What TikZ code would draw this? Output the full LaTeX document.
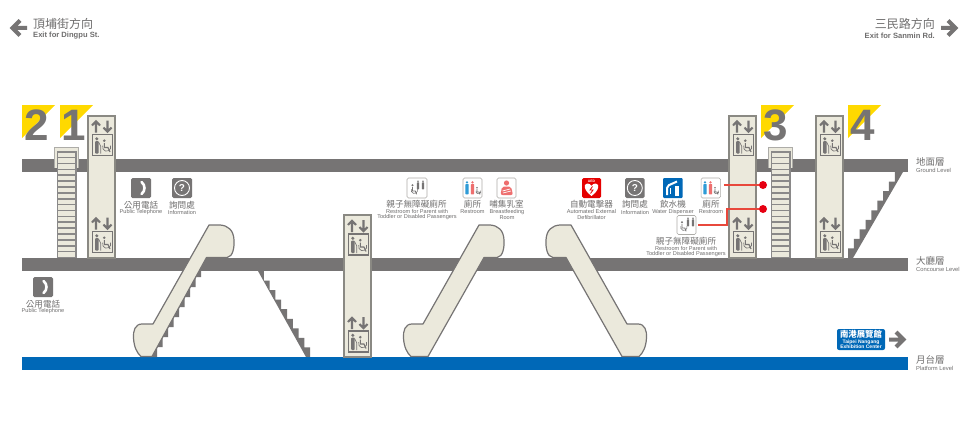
\documentclass[tikz,border=0pt]{standalone}
\usepackage{fontspec}
\setmainfont{Liberation Sans}
\newfontfamily\cjk{Noto Sans CJK TC}
\definecolor{bargray}{HTML}{767474}
\definecolor{cream}{HTML}{EBE9DC}
\definecolor{mrtblue}{HTML}{0068B7}
\definecolor{signyellow}{HTML}{FFD900}
\definecolor{textgray}{HTML}{6F6E6E}
\definecolor{edgegray}{HTML}{8A8983}
\definecolor{linered}{HTML}{E8483C}
\definecolor{dotred}{HTML}{E60012}
\definecolor{manblue}{HTML}{2E9BD6}
\definecolor{womanred}{HTML}{EE6F6F}
\definecolor{waterblue}{HTML}{0068B7}
\tikzset{
  x=1pt,y=-1pt,
  zh/.style={font=\cjk\fontsize{8.6}{9}\selectfont,text=textgray,inner sep=0pt},
  zhbig/.style={font=\cjk\fontsize{12}{13}\selectfont,text=textgray,inner sep=0pt},
  zhlevel/.style={font=\cjk\fontsize{9.5}{10}\selectfont,text=textgray,inner sep=0pt,anchor=west},
  en/.style={font=\fontsize{5.6}{5.4}\selectfont,text=textgray,inner sep=0pt,align=center},
  enbig/.style={font=\bfseries\fontsize{7.6}{8}\selectfont,text=textgray,inner sep=0pt},
  enlevel/.style={font=\fontsize{5.8}{6}\selectfont,text=textgray,inner sep=0pt,anchor=west},
  bar/.style={fill=bargray,draw=none},
  lift/.style={fill=cream,draw=edgegray,line width=1.3pt},
  digit/.style={font=\bfseries\fontsize{44}{44}\selectfont,text=bargray,inner sep=0pt},
  darkicon/.style={fill=bargray,draw=none,rounded corners=1.5pt},
  whiteicon/.style={fill=white,draw=edgegray!70,line width=.6pt,rounded corners=1.5pt},
  redlink/.style={draw=linered,line width=1.2pt},
  reddot/.style={circle,fill=dotred,minimum size=8pt,inner sep=0pt},
  chevron/.style={draw=bargray,line width=4pt,miter limit=10},
  escal/.style={fill=cream,draw=bargray,line width=1.2pt,line join=round},
  qmark/.style={circle,draw=white,line width=.9pt,minimum size=15pt,inner sep=0pt,text=white,font=\bfseries\fontsize{10}{10}\selectfont},
  % lift sign: origin = left edge of shaft, top of arrows
  liftsign/.pic={
    \draw[draw=bargray,line width=2.1pt] (8,12)--(8,1) (4,5)--(8,.8)--(12,5);
    \draw[draw=bargray,line width=2.1pt] (19.5,0)--(19.5,11) (15.5,7)--(19.5,11.2)--(23.5,7);
    \draw[draw=bargray,line width=1.6pt,fill=cream] (4.5,14) rectangle (24.5,35);
    \fill[bargray] (8.8,18.3) circle (1.7);
    \fill[bargray,rounded corners=.8pt] (7.2,20.5) rectangle (10.6,33);
    \draw[bargray,line width=.7pt] (10.5,21.5)--(12.8,26)--(12.8,33);
    \fill[bargray] (16.3,20.2) circle (1.4);
    \draw[bargray,line width=1.1pt] (16.3,22.5)--(16.3,27)--(20,27)--(22,31.5);
    \draw[bargray,line width=.7pt] (14.8,25.2) arc[start angle=200,end angle=-20,radius=4.1];
  },
  wcfig/.pic={
    \fill[#1] (0,-6) circle (1.2);
    \draw[#1,line width=.9pt] (0,-4)--(0,0)--(3,0)--(4.3,3.4);
    \draw[#1,line width=.6pt] (-1.2,-2) arc[start angle=200,end angle=-20,radius=3.4];
  },
  manfig/.pic={
    \fill[#1] (0,-7) circle (1.6);
    \fill[#1,rounded corners=.6pt] (-2,-5) rectangle (2,8);
  },
}
\begin{document}
\begin{tikzpicture}
\useasboundingbox (0,0) rectangle (965,420);
\fill[white] (0,0) rectangle (965,420);

% level bars
\fill[bar] (22,158.5) rectangle (908,172);
\fill[bar] (22,258) rectangle (908,271);
\fill[mrtblue] (22,357) rectangle (908,370);

% gates
\foreach \gx/\gd in {22/2,60/1,761/3,848/4}{
  \fill[signyellow] (\gx,105)--(\gx+33,105)--(\gx,138)--cycle;
}
\node[digit] (gate2) at (36.5,125) {2};
\node[digit] (gate1) at (73.5,125) {1};
\node[digit] (gate3) at (775.5,125) {3};
\node[digit] (gate4) at (862.5,125) {4};

% stairs (ladder)
\foreach \sx in {54,768}{
  \fill[cream,draw=edgegray!70,line width=.8pt] (\sx,168)--(\sx,147)--(\sx+24.5,147)--(\sx+24.5,168);
  \fill[bargray!85] (\sx+2.5,151) rectangle (\sx+22.5,258);
  \foreach \i in {0,...,17}{
    \fill[cream] (\sx+4,152.5+\i*5.88) rectangle (\sx+21,152.5+\i*5.88+4.3);
  }
}

% lift shafts
\foreach \lx/\ly/\ley in {88/116/258,344/215/357,729/116/258,816/116/258}{
  \draw[lift] (\lx,\ly) rectangle (\lx+27,\ley);
}
\foreach \lx in {88,729,816}{
  \pic at (\lx,120.5) {liftsign};
  \pic at (\lx,217.5) {liftsign};
}
\pic at (344,220) {liftsign};
\pic at (344,317) {liftsign};

% left escalator with teeth
\fill[bargray] (150,357)--(157,357) \foreach \i in {1,...,10}{ -- ++(0,-10) -- ++(5.5,0)} -- (200,257) -- cycle;
\draw[escal] (152,356.5)--(206.5,257.5)--(227,257.5) .. controls (233,257) and (234.5,247) .. (234,240) .. controls (233.5,230) and (228,225.5) .. (220,225)--(209,225)--(153,324)--(142,324) .. controls (135,324) and (133,331) .. (133.5,338) .. controls (134,347) and (137,353) .. (141,356.5) -- cycle;

% middle escalator
\draw[escal] (428,356.5)--(484,257.5)--(497,257.5) .. controls (503,257) and (504.5,247) .. (504,240) .. controls (503.5,230) and (498,225.5) .. (490,225)--(479,225)--(423,324)--(412,324) .. controls (405,324) and (403,331) .. (403.5,338) .. controls (404,347) and (407,353) .. (411,356.5) -- cycle;

% right escalator
\draw[escal] (622,356.5)--(566,257.5)--(553,257.5) .. controls (547,257) and (545.5,247) .. (546,240) .. controls (546.5,230) and (552,225.5) .. (560,225)--(571,225)--(627,324)--(638,324) .. controls (645,324) and (647,331) .. (646.5,338) .. controls (646,347) and (643,353) .. (639,356.5) -- cycle;

% fixed stairs
\fill[bargray] (258,271) \foreach \i in {1,...,9}{ -- ++(5.8,0) -- ++(0,9.55)} -- (306,357) -- cycle;
\fill[bargray] (848,258) \foreach \i in {1,...,9}{ -- ++(0,-9.55) -- ++(5.85,0)} -- (903,172) -- (853,258) -- cycle;

% exits
\draw[chevron] (27,28)--(13,28) (20,20.5)--(12.5,28)--(20,35.5);
\node[zhbig,anchor=west] (exitLzh) at (33,24) {頂埔街方向};
\node[enbig,anchor=west] (exitLen) at (33,35.5) {Exit for Dingpu St.};
\draw[chevron] (941,28)--(955,28) (948,20.5)--(955.5,28)--(948,35.5);
\node[zhbig,anchor=east] (exitRzh) at (935,24) {三民路方向};
\node[enbig,anchor=east] (exitRen) at (935,35.5) {Exit for Sanmin Rd.};

% telephone 1
\fill[darkicon] (131,178) rectangle (151,198);
\draw[white,line width=2.6pt,line cap=round] (141.5,182) .. controls (145.5,185) and (145.5,191) .. (141.5,194);
\node[zh] (tel1zh) at (141,205) {公用電話};
\node[en] (tel1en) at (141,212) {Public Telephone};
% information 1
\fill[darkicon] (172,178) rectangle (192,198);
\node[qmark] (info1) at (182,188) {?};
\node[zh] (info1zh) at (182,205) {詢問處};
\node[en] (info1en) at (182,212) {Information};
% telephone 2
\fill[darkicon] (33,277) rectangle (53,297);
\draw[white,line width=2.6pt,line cap=round] (43.5,281) .. controls (47.5,284) and (47.5,290) .. (43.5,293);
\node[zh] (tel2zh) at (43,304) {公用電話};
\node[en] (tel2en) at (43,311) {Public Telephone};

% parent restroom 1
\draw[whiteicon] (407,178) rectangle (427,198);
\pic[scale=.95] at (412.5,191) {wcfig=bargray};
\pic[scale=.55] at (418,185) {manfig=bargray};
\pic[scale=.55] at (423,185) {manfig=bargray};
\node[zh] (par1zh) at (416.5,204.5) {親子無障礙廁所};
\node[en] (par1en) at (417,214.5) {Restroom for Parent with\\[-.2pt]Toddler or Disabled Passengers};
% restroom 1
\draw[whiteicon] (463,178) rectangle (482,198);
\pic[scale=.8] at (467,188) {manfig=manblue};
\pic[scale=.8] at (472.5,188) {manfig=womanred};
\pic[scale=.7] at (477,192) {wcfig=bargray};
\node[zh] (rest1zh) at (472.5,204.5) {廁所};
\node[en] (rest1en) at (472.5,212) {Restroom};
% breastfeeding
\draw[whiteicon] (497,178) rectangle (516,198);
\fill[womanred] (506.5,183) circle (2.6);
\fill[womanred,rounded corners=2pt] (500.5,195) -- (502,186.5) -- (511,186.5) -- (513,195) -- cycle;
\draw[white,line width=.7pt] (502.5,191)--(510,189) (503,193)--(511,191);
\node[zh] (babyzh) at (506.5,204.5) {哺集乳室};
\node[en] (babyen) at (507,214.5) {Breastfeeding\\[-.2pt]Room};

% AED
\fill[red!90!black,rounded corners=1.5pt] (582,178) rectangle (601,198);
\fill[white] (591.5,196) .. controls (586,192) and (584,188) .. (585,185) .. controls (586,183) and (590,183) .. (591.5,186) .. controls (593,183) and (597,183) .. (598,185) .. controls (599,188) and (597,192) .. (591.5,196) -- cycle;
\node[inner sep=0pt,text=white,font=\bfseries\fontsize{3.4}{3.4}\selectfont] (aedtag) at (591.5,181) {AED};
\draw[red!90!black,line width=.8pt] (592.5,186.5)--(590,190)--(593,190)--(590.5,193.5);
\node[zh] (aedzh) at (591.5,204.5) {自動電擊器};
\node[en] (aeden) at (591.5,214.5) {Automated External\\[-.2pt]Defibrillator};
% information 2
\fill[darkicon] (625,178) rectangle (644.5,198);
\node[qmark] (info2) at (634.8,188) {?};
\node[zh] (info2zh) at (635,204.5) {詢問處};
\node[en] (info2en) at (635,212) {Information};
% water
\fill[waterblue,rounded corners=1pt] (663,178) rectangle (682.5,198);
\draw[white,line width=2pt,rounded corners=2pt] (667,195)--(667,186)--(677,181.5);
\fill[white] (674.5,186) rectangle (679,196);
\fill[white] (669.5,188) rectangle (670.8,194);
\node[zh] (waterzh) at (673,204.5) {飲水機};
\node[en] (wateren) at (673,212) {Water Dispenser};
% restroom 2
\node[whiteicon,minimum width=19.5pt,minimum height=20pt,inner sep=0pt] (rest2) at (710.8,188) {};
\pic[scale=.8] at (705,188) {manfig=manblue};
\pic[scale=.8] at (710.5,188) {manfig=womanred};
\pic[scale=.7] at (715,192) {wcfig=bargray};
\node[zh] (rest2zh) at (711,204.5) {廁所};
\node[en] (rest2en) at (711,212) {Restroom};
% parent restroom 2
\node[whiteicon,minimum width=19pt,minimum height=19pt,inner sep=0pt] (par2) at (686.5,225) {};
\pic[scale=.95] at (682,228) {wcfig=bargray};
\pic[scale=.55] at (688,222) {manfig=bargray};
\pic[scale=.55] at (693,222) {manfig=bargray};
\node[zh] (par2zh) at (686,241.5) {親子無障礙廁所};
\node[en] (par2en) at (686,251.5) {Restroom for Parent with\\[-.2pt]Toddler or Disabled Passengers};

% red links
\node[reddot] (dotA) at (763,185) {};
\node[reddot] (dotB) at (763,209) {};
\coordinate (bendB) at (727,225);
\draw[redlink] (rest2.east |- dotA) ++(3,0) -- (dotA);
\draw[redlink] (par2.east) ++(2,0) -- (bendB) -- (bendB |- dotB) -- (dotB);

% Nangang badge
\node[fill=mrtblue,rounded corners=2pt,minimum width=48pt,minimum height=21pt,inner sep=0pt] (badge) at (861,339.5) {};
\node[inner sep=0pt,text=white,font=\cjk\bfseries\fontsize{8.4}{9}\selectfont] (badgezh) at (861,334) {南港展覽館};
\node[inner sep=0pt,text=white,align=center,font=\bfseries\fontsize{5}{5}\selectfont] (badgeen) at (861,344) {Taipei Nangang\\[-.3pt]Exhibition Center};
\draw[chevron] (889,339.5)--(903,339.5) (896,332)--(903.5,339.5)--(896,347);

% level labels
\node[zhlevel] (lv1zh) at (916,162) {地面層};
\node[enlevel] (lv1en) at (916,170) {Ground Level};
\node[zhlevel] (lv2zh) at (916,261) {大廳層};
\node[enlevel] (lv2en) at (916,269.5) {Concourse Level};
\node[zhlevel] (lv3zh) at (916,359.5) {月台層};
\node[enlevel] (lv3en) at (916,368) {Platform Level};
\end{tikzpicture}
\end{document}
